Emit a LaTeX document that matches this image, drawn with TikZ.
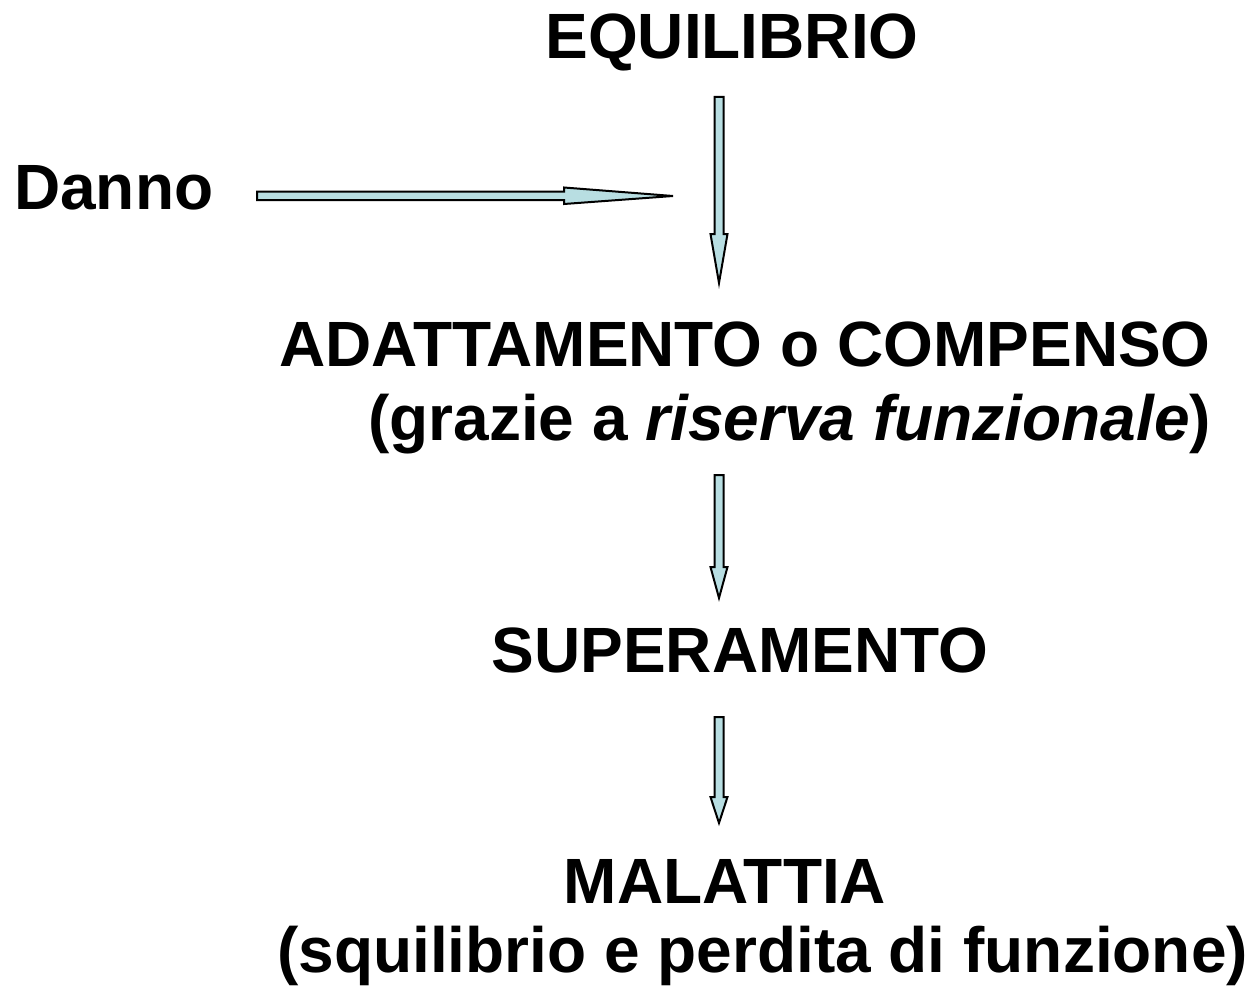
\documentclass[tikz,border=0pt]{standalone}
\usepackage{fontspec}
\setmainfont{Liberation Sans}
\definecolor{arrowfill}{HTML}{B8DEE2}
\tikzset{
  blk/.style={draw=black, line width=2pt, fill=arrowfill, line join=miter},
  lbl/.style={inner sep=0pt, font=\fontsize{64}{64}\selectfont\bfseries}
}
% vertical block arrow: x, ytop, yhead, ytip
\newcommand\myvarrow[4]{%
  \draw[blk] ({#1-4.5},#2) -- ({#1+4.5},#2) -- ({#1+4.5},#3) -- ({#1+8.5},#3) -- (#1,#4) -- ({#1-8.5},#3) -- ({#1-4.5},#3) -- cycle;}
\begin{document}
\begin{tikzpicture}[x=1pt,y=-1pt]
\useasboundingbox (0,0) rectangle (1254,990);
\node[lbl, anchor=base] (equi) at (732,59) {EQUILIBRIO};
\node[lbl, anchor=base west] (danno) at (14,209) {Danno};
\node[lbl, anchor=base west] (adatt) at (279,366) {ADATTAMENTO o COMPENSO};
\node[lbl, anchor=base west] (grazie) at (368,440) {(grazie a \textit{riserva funzionale})};
\node[lbl, anchor=base] (super) at (740,672) {SUPERAMENTO};
\node[lbl, anchor=base] (malat) at (725,903) {MALATTIA};
\node[lbl, anchor=base west] (squil) at (277,972) {(squilibrio e perdita di funzione)};
% horizontal arrow from Danno
\coordinate (hs) at (257,196);
\coordinate (he) at (673,196);
\draw[blk] (257,191.5) -- (564,191.5) -- (564,187.5) -- (he) -- (564,204) -- (564,200) -- (257,200) -- cycle;
% vertical arrows
\myvarrow{719}{97}{234}{283}
\myvarrow{719}{475}{567}{598}
\myvarrow{719}{717}{797}{823}
\end{tikzpicture}
\end{document}
